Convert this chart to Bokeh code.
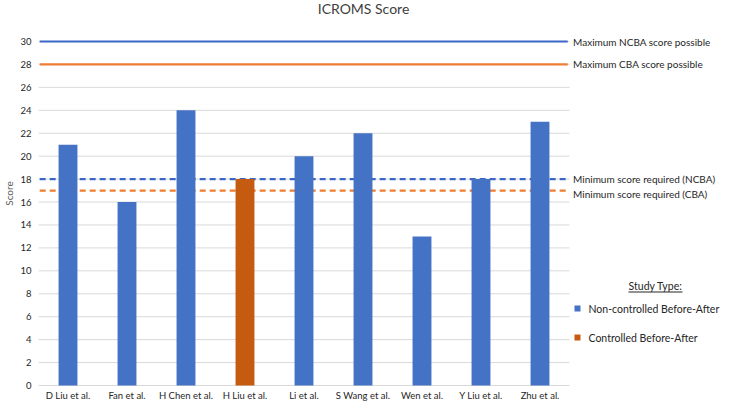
from bokeh.plotting import figure
from bokeh.models import Range1d, FixedTicker
from bokeh.core.properties import value
from bokeh.embed import file_html
from bokeh.resources import INLINE

# ---- data ----
studies = ["D Liu et al.", "Fan et al.", "H Chen et al.", "H Liu et al.", "Li et al.",
           "S Wang et al.", "Wen et al.", "Y Liu et al.", "Zhu et al."]
scores = [21, 16, 24, 18, 20, 22, 13, 18, 23]
study_types = ["NCBA", "NCBA", "NCBA", "CBA", "NCBA", "NCBA", "NCBA", "NCBA", "NCBA"]
y_ticks = [0, 2, 4, 6, 8, 10, 12, 14, 16, 18, 20, 22, 24, 26, 28, 30]
ref_values = [30, 28, 18, 17]
ref_labels = ["Maximum NCBA score possible", "Maximum CBA score possible",
              "Minimum score required (NCBA)", "Minimum score required (CBA)"]
ref_types = ["NCBA", "CBA", "NCBA", "CBA"]
ref_dashed = [False, False, True, True]
legend_types = ["NCBA", "CBA"]
legend_labels = ["Non-controlled Before-After", "Controlled Before-After"]
legend_title = "Study Type:"
title_text = "ICROMS Score"

BAR_COL = {"NCBA": "#4472C4", "CBA": "#C55A11"}
LINE_COL = {"NCBA": "#3A66C8", "CBA": "#ED7D31"}
FONT = "Lato"

W, H = 724, 403
LEFT, BOTTOM = 38, 17
PX_PER_CAT = 59.0
Y_TOP_PX, Y_ZERO_PX = 41, 385       # pixel rows of y=30 and y=0
PX_PER_UNIT = (Y_ZERO_PX - Y_TOP_PX) / 30
frame_w = W - LEFT
frame_h = H - BOTTOM
x0 = -0.5
x1 = x0 + frame_w / PX_PER_CAT
y1 = 30 + Y_TOP_PX / PX_PER_UNIT
y0 = y1 - frame_h / PX_PER_UNIT


def fx(px):  # figure pixel x -> data x
    return x0 + (px - LEFT) / PX_PER_CAT


def fy(px):  # figure pixel y (from top) -> data y
    return y1 - px / PX_PER_UNIT


p = figure(width=W, height=H, output_backend="svg", toolbar_location=None,
           x_range=Range1d(x0, x1), y_range=Range1d(y0, y1),
           min_border_left=LEFT, min_border_bottom=BOTTOM, min_border_right=0, min_border_top=0)
p.outline_line_color = None
p.background_fill_color = "white"
p.border_fill_color = "white"
p.xgrid.visible = False
p.ygrid.visible = False

n = len(studies)
xs = list(range(n))
last_x = n - 0.5

# gridlines
p.segment(x0=[x0] * len(y_ticks), x1=[last_x] * len(y_ticks), y0=y_ticks, y1=y_ticks,
          line_color="#D9D9D9", line_width=1)

# reference lines
for v, t, d in zip(ref_values, ref_types, ref_dashed):
    p.segment(x0=[x0 + 0.02], x1=[last_x - 0.03], y0=[v], y1=[v], line_color=LINE_COL[t],
              line_width=2.2, line_dash="6 4" if d else "solid")

# bars
p.vbar(x=xs, top=scores, width=0.32, bottom=0,
       fill_color=[BAR_COL[t] for t in study_types], line_color=None)

# right-side reference labels
offs = [0, 0, 0, 3]
p.text(x=[last_x + 0.06] * 4, y=ref_values, text=ref_labels, y_offset=offs,
       text_font=value(FONT), text_font_size="10px",
       text_color="#262626", text_baseline="middle", text_align="left")

# legend
p.text(x=[fx(655)], y=[fy(285)], text=[legend_title], text_font=value(FONT),
       text_font_size="10.5px", text_color="#262626", text_baseline="middle", text_align="center")
p.segment(x0=[fx(628)], x1=[fx(682)], y0=[fy(291.5)], y1=[fy(291.5)], line_color="#262626", line_width=1)
leg_y = [fy(308), fy(337)]
p.scatter(x=[fx(577)] * 2, y=leg_y, marker="square", size=6,
          fill_color=[BAR_COL[t] for t in legend_types], line_color=None)
p.text(x=[fx(588)] * 2, y=leg_y, text=legend_labels, text_font=value(FONT),
       text_font_size="10.5px", text_color="#262626", text_baseline="middle", text_align="left")

# title
p.text(x=[fx(363)], y=[fy(8)], text=[title_text], text_font=value(FONT),
       text_font_size="14px", text_color="#404040", text_baseline="middle", text_align="center")

# axes
p.xaxis.ticker = FixedTicker(ticks=xs)
p.xaxis.major_label_overrides = {i: s for i, s in enumerate(studies)}
p.xaxis.axis_line_color = None
p.xaxis.major_tick_line_color = None
p.xaxis.minor_tick_line_color = None
p.xaxis.major_tick_out = 0
p.xaxis.major_tick_in = 0
p.xaxis.major_label_standoff = 3
p.xaxis.major_label_text_font = FONT
p.xaxis.major_label_text_font_size = "9.5px"
p.xaxis.major_label_text_color = "#262626"

p.yaxis.ticker = FixedTicker(ticks=y_ticks)
p.yaxis.axis_line_color = None
p.yaxis.major_tick_line_color = None
p.yaxis.minor_tick_line_color = None
p.yaxis.major_tick_out = 0
p.yaxis.major_tick_in = 0
p.yaxis.major_label_standoff = 7
p.yaxis.major_label_text_font = FONT
p.yaxis.major_label_text_font_size = "9.5px"
p.yaxis.major_label_text_color = "#262626"
p.yaxis.axis_label = "Score"
p.yaxis.axis_label_text_font = FONT
p.yaxis.axis_label_text_font_size = "10px"
p.yaxis.axis_label_text_font_style = "normal"
p.yaxis.axis_label_text_color = "#595959"
p.yaxis.axis_label_standoff = 2

open("out.html", "w").write(file_html(p, INLINE))
